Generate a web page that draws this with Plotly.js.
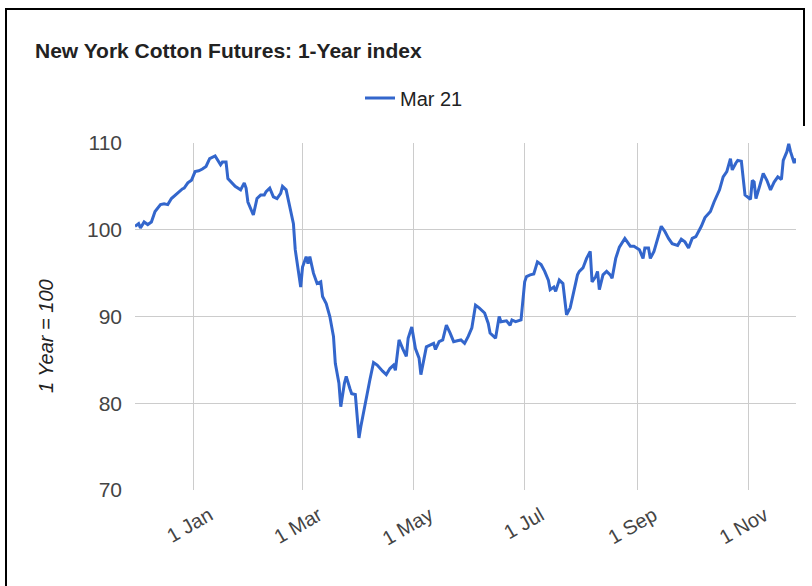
<!DOCTYPE html>
<html>
<head>
<meta charset="utf-8">
<script src="https://cdn.plot.ly/plotly-3.0.1.min.js"></script>
<style>
  html, body { margin: 0; padding: 0; background: #fff; }
  #wrap { position: relative; width: 812px; height: 586px; overflow: hidden; }
  #chart { position: absolute; left: 0; top: 0; width: 812px; height: 586px; }
  .frame { position: absolute; background: #000; }
</style>
</head>
<body>
<div id="wrap">
  <div id="chart"></div>
  <div class="frame" style="left:5px; top:8px; width:800px; height:2px;"></div>
  <div class="frame" style="left:5px; top:8px; width:2px; height:578px;"></div>
  <div class="frame" style="left:803px; top:8px; width:2px; height:118px;"></div>
</div>
<script>
// ---- Data ----
const chartTitle = "New York Cotton Futures: 1-Year index";
const seriesName = "Mar 21";
const yAxisTitle = "1 Year = 100";

const dates = [
  "2019-11-30","2019-12-02","2019-12-03","2019-12-05","2019-12-07","2019-12-09","2019-12-11","2019-12-14","2019-12-16","2019-12-18","2019-12-20","2019-12-22","2019-12-24","2019-12-26","2019-12-27","2019-12-29","2019-12-31",
  "2020-01-01","2020-01-02","2020-01-04","2020-01-06","2020-01-08","2020-01-10","2020-01-13","2020-01-14","2020-01-16","2020-01-17","2020-01-19","2020-01-20","2020-01-22","2020-01-24","2020-01-27","2020-01-29","2020-01-30","2020-01-31",
  "2020-02-03","2020-02-05","2020-02-07","2020-02-09","2020-02-10","2020-02-12","2020-02-14","2020-02-16","2020-02-18","2020-02-19","2020-02-21","2020-02-23","2020-02-25","2020-02-26","2020-02-28","2020-02-29",
  "2020-03-01","2020-03-03","2020-03-04","2020-03-05","2020-03-07","2020-03-09","2020-03-11","2020-03-12","2020-03-14","2020-03-16","2020-03-18","2020-03-19","2020-03-21","2020-03-22","2020-03-24","2020-03-25","2020-03-27","2020-03-28","2020-03-30",
  "2020-04-01","2020-04-02","2020-04-05","2020-04-07","2020-04-09","2020-04-11","2020-04-14","2020-04-16","2020-04-18","2020-04-20","2020-04-21","2020-04-23","2020-04-25","2020-04-27","2020-04-28","2020-04-30",
  "2020-05-02","2020-05-04","2020-05-05","2020-05-07","2020-05-08","2020-05-10","2020-05-12","2020-05-13","2020-05-15","2020-05-17","2020-05-19","2020-05-21","2020-05-23","2020-05-25","2020-05-27","2020-05-29","2020-05-31",
  "2020-06-02","2020-06-04","2020-06-06","2020-06-09","2020-06-11","2020-06-12","2020-06-15","2020-06-17","2020-06-18","2020-06-21","2020-06-23","2020-06-24","2020-06-26","2020-06-29",
  "2020-07-01","2020-07-02","2020-07-04","2020-07-06","2020-07-08","2020-07-10","2020-07-12","2020-07-14","2020-07-15","2020-07-17","2020-07-18","2020-07-20","2020-07-22","2020-07-24","2020-07-26","2020-07-27","2020-07-30","2020-07-31",
  "2020-08-02","2020-08-04","2020-08-06","2020-08-07","2020-08-09","2020-08-10","2020-08-11","2020-08-13","2020-08-15","2020-08-17","2020-08-18","2020-08-20","2020-08-22","2020-08-25","2020-08-28","2020-08-30",
  "2020-09-02","2020-09-04","2020-09-05","2020-09-07","2020-09-08","2020-09-10","2020-09-11","2020-09-14","2020-09-16","2020-09-18","2020-09-20","2020-09-23","2020-09-25","2020-09-27","2020-09-29",
  "2020-10-01","2020-10-03","2020-10-06","2020-10-08","2020-10-11","2020-10-13","2020-10-16","2020-10-18","2020-10-20","2020-10-22","2020-10-23","2020-10-25","2020-10-26","2020-10-28","2020-10-29","2020-10-30",
  "2020-11-02","2020-11-03","2020-11-04","2020-11-05","2020-11-07","2020-11-09","2020-11-11","2020-11-13","2020-11-15","2020-11-17","2020-11-19","2020-11-20","2020-11-22","2020-11-23","2020-11-24","2020-11-26","2020-11-27"
];

const indexValues = [
  100.4,100.7,100.2,100.9,100.6,100.9,102.1,102.9,103.0,102.9,103.6,104.0,104.3,104.7,104.8,105.4,105.7,
  106.3,106.7,106.8,107.0,107.3,108.2,108.5,108.2,107.5,107.8,107.8,105.9,105.4,105.0,104.6,105.4,104.8,103.2,
  101.7,103.6,104.0,104.0,104.4,104.8,103.8,103.6,104.2,105.0,104.6,102.7,100.7,97.7,94.6,93.4,
  95.7,96.9,96.1,96.9,95.0,93.8,94.0,92.3,91.5,90.0,87.7,84.6,82.3,79.6,82.3,83.1,81.7,81.1,81.0,
  76.0,77.3,80.8,82.7,84.7,84.4,83.7,83.3,84.0,84.4,83.8,87.3,86.3,85.4,87.5,88.8,
  86.3,85.2,83.3,85.6,86.5,86.7,86.9,86.2,87.1,87.3,89.0,88.1,87.1,87.2,87.3,86.9,87.7,
  88.7,91.3,91.0,90.4,89.2,88.1,87.5,90.0,89.4,89.5,89.0,89.6,89.4,89.6,
  94.0,94.6,94.8,94.9,96.3,96.0,95.2,94.2,93.1,93.4,92.9,94.2,93.8,90.2,91.0,91.9,94.8,95.2,
  95.6,96.7,97.5,94.0,94.6,95.2,93.1,94.8,95.2,94.8,94.4,96.7,98.0,99.0,98.1,98.1,
  97.7,96.7,97.9,97.9,96.7,97.5,98.2,100.4,99.8,99.0,98.4,98.2,98.9,98.6,97.9,
  99.0,99.2,100.4,101.4,102.1,103.2,104.6,106.1,106.7,108.2,106.9,107.7,108.0,107.9,105.7,104.0,
  103.5,105.7,105.5,103.6,105.0,106.5,105.7,104.6,105.5,106.1,105.8,108.0,109.0,109.9,109.0,107.7,108.2
];

const xTickVals = ["2020-01-01","2020-03-01","2020-05-01","2020-07-01","2020-09-01","2020-11-01"];
const xTickText = ["1 Jan","1 Mar","1 May","1 Jul","1 Sep","1 Nov"];
const yTickVals = [70, 80, 90, 100, 110];
const yRange = [70, 110];

// ---- Chart ----
const FONT = "Liberation Sans, Arial, sans-serif";

const trace = {
  type: "scatter",
  mode: "lines",
  name: seriesName,
  x: dates,
  y: indexValues,
  line: { color: "#3366cc", width: 3 },
  hoverinfo: "skip"
};

const layout = {
  width: 812,
  height: 586,
  paper_bgcolor: "#ffffff",
  plot_bgcolor: "#ffffff",
  margin: { l: 135, r: 16, t: 143, b: 96 },
  font: { family: FONT, color: "#444" },
  title: {
    text: chartTitle,
    font: { family: FONT, size: 21, color: "#222", weight: 700 },
    xref: "container", yref: "container",
    x: 35 / 812, xanchor: "left",
    y: 1 - 51 / 586, yanchor: "middle"
  },
  showlegend: true,
  legend: {
    orientation: "h",
    xref: "container", yref: "container",
    x: 360 / 812, xanchor: "left",
    y: 1 - 98 / 586, yanchor: "middle",
    font: { family: FONT, size: 20, color: "#222" },
    bgcolor: "rgba(0,0,0,0)"
  },
  xaxis: {
    type: "date",
    range: [dates[0], dates[dates.length - 1]],
    tickmode: "array",
    tickvals: xTickVals,
    ticktext: xTickText,
    tickangle: -30,
    tickfont: { family: FONT, size: 20, color: "#444" },
    showgrid: true,
    gridcolor: "#cccccc",
    gridwidth: 1,
    zeroline: false,
    showline: false,
    ticks: "",
    ticklabelshift: 16,
    ticklabelstandoff: 9
  },
  yaxis: {
    range: yRange,
    tickmode: "array",
    tickvals: yTickVals,
    tickfont: { family: FONT, size: 21, color: "#444" },
    showgrid: true,
    gridcolor: "#cccccc",
    gridwidth: 1,
    zeroline: false,
    showline: false,
    ticks: "",
    ticklabelstandoff: 12
  },
  annotations: [{
    text: yAxisTitle,
    xref: "paper", yref: "paper",
    x: (46 - 135) / (812 - 135 - 16), xanchor: "center",
    y: (490 - 336) / (490 - 143), yanchor: "middle",
    textangle: -90,
    showarrow: false,
    font: { family: FONT, size: 20, color: "#222", style: "italic" }
  }]
};

Plotly.newPlot("chart", [trace], layout, { staticPlot: true, displayModeBar: false });
</script>
</body>
</html>
